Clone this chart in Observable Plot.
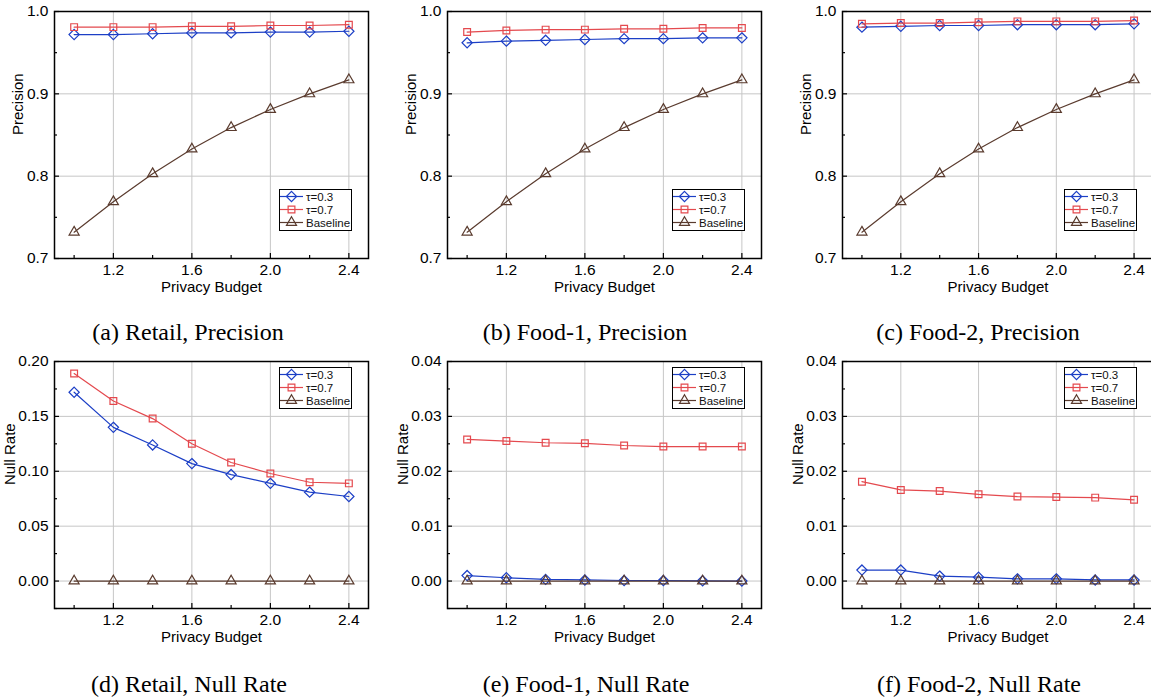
<!DOCTYPE html>
<html><head><meta charset="utf-8">
<script src="https://cdn.jsdelivr.net/npm/d3@7"></script>
<script src="https://cdn.jsdelivr.net/npm/@observablehq/plot@0.6"></script>
<style>
body{margin:0;overflow:hidden;background:#fff;}
#root{position:relative;width:1151px;height:698px;overflow:hidden;background:#fff;}
.panel{position:absolute;}
.panel svg{max-width:none !important;}
.cap{position:absolute;font-family:"Liberation Serif","Times New Roman",serif;font-size:24px;white-space:nowrap;transform:translateX(-50%);line-height:24px;color:#000;}
.leg{position:absolute;}
</style></head><body><div id="root"></div>
<script>
// ---- data ----
const budgets = [1.0, 1.2, 1.4, 1.6, 1.8, 2.0, 2.2, 2.4];
const seriesNames = ["τ=0.3", "τ=0.7", "Baseline"];

const retailPrecT3 = [0.972, 0.972, 0.973, 0.974, 0.974, 0.975, 0.975, 0.976];
const retailPrecT7 = [0.981, 0.981, 0.981, 0.982, 0.982, 0.983, 0.983, 0.984];
const food1PrecT3  = [0.962, 0.964, 0.965, 0.966, 0.967, 0.967, 0.968, 0.968];
const food1PrecT7  = [0.975, 0.977, 0.978, 0.978, 0.979, 0.979, 0.980, 0.980];
const food2PrecT3  = [0.981, 0.982, 0.983, 0.983, 0.984, 0.984, 0.984, 0.985];
const food2PrecT7  = [0.985, 0.986, 0.986, 0.987, 0.988, 0.988, 0.988, 0.989];
const baselinePrec = [0.732, 0.769, 0.803, 0.833, 0.859, 0.881, 0.900, 0.917];

const retailNullT3 = [0.172, 0.140, 0.124, 0.107, 0.097, 0.089, 0.081, 0.077];
const retailNullT7 = [0.189, 0.164, 0.148, 0.125, 0.108, 0.098, 0.090, 0.089];
const food1NullT3  = [0.0010, 0.0006, 0.0003, 0.0002, 0.0001, 0.0001, 0.00005, 0.0];
const food1NullT7  = [0.0258, 0.0255, 0.0252, 0.0251, 0.0247, 0.0245, 0.0245, 0.0245];
const food2NullT3  = [0.0020, 0.0020, 0.0009, 0.0007, 0.0004, 0.0004, 0.0002, 0.0002];
const food2NullT7  = [0.0181, 0.0166, 0.0164, 0.0158, 0.0154, 0.0153, 0.0152, 0.0148];
const baselineNull = [0, 0, 0, 0, 0, 0, 0, 0];

const xMajorTicks = [1.2, 1.6, 2.0, 2.4];
const xMinorTicks = [1.0, 1.4, 1.8, 2.2];
const precMajorTicks = [0.7, 0.8, 0.9, 1.0];
const precMinorTicks = [0.75, 0.85, 0.95];
const retailNullMajorTicks = [0.00, 0.05, 0.10, 0.15, 0.20];
const retailNullMinorTicks = [-0.025, 0.025, 0.075, 0.125, 0.175];
const foodNullMajorTicks = [0.00, 0.01, 0.02, 0.03, 0.04];
const foodNullMinorTicks = [-0.005, 0.005, 0.015, 0.025, 0.035];

const captions = ["(a) Retail, Precision", "(b) Food-1, Precision", "(c) Food-2, Precision",
                  "(d) Retail, Null Rate", "(e) Food-1, Null Rate", "(f) Food-2, Null Rate"];

// ---- styles ----
const colors = ["#1c3fc6", "#e4494e", "#5a3b2e"];
const symbols = ["diamond2", "square2", "triangle2"];
const radii = [4.6, 4.3, 4.8];
const FONT = "'Liberation Sans', Arial, sans-serif";

const panels = [
  {L: 54, T: 11, W: 314, H: 247, dom: [0.7, 1.0], maj: precMajorTicks, min: precMinorTicks, fmt: ".1f", ylab: "Precision", ydx: -36,
   vals: [retailPrecT3, retailPrecT7, baselinePrec], leg: "bottom", cap: captions[0], capX: 188, capY: 320},
  {L: 447, T: 11, W: 314, H: 247, dom: [0.7, 1.0], maj: precMajorTicks, min: precMinorTicks, fmt: ".1f", ylab: "Precision", ydx: -36,
   vals: [food1PrecT3, food1PrecT7, baselinePrec], leg: "bottom", cap: captions[1], capX: 585, capY: 320},
  {L: 842, T: 11, W: 311, H: 247, dom: [0.7, 1.0], maj: precMajorTicks, min: precMinorTicks, fmt: ".1f", ylab: "Precision", ydx: -36,
   vals: [food2PrecT3, food2PrecT7, baselinePrec], leg: "bottom", cap: captions[2], capX: 978, capY: 320},
  {L: 54, T: 361, W: 314, H: 247, dom: [-0.025, 0.2], maj: retailNullMajorTicks, min: retailNullMinorTicks, fmt: ".2f", ylab: "Null Rate", ydx: -44,
   vals: [retailNullT3, retailNullT7, baselineNull], leg: "top", cap: captions[3], capX: 189, capY: 672},
  {L: 447, T: 361, W: 314, H: 247, dom: [-0.005, 0.04], maj: foodNullMajorTicks, min: foodNullMinorTicks, fmt: ".2f", ylab: "Null Rate", ydx: -44,
   vals: [food1NullT3, food1NullT7, baselineNull], leg: "top", cap: captions[4], capX: 586, capY: 672},
  {L: 842, T: 361, W: 311, H: 247, dom: [-0.005, 0.04], maj: foodNullMajorTicks, min: foodNullMinorTicks, fmt: ".2f", ylab: "Null Rate", ydx: -44,
   vals: [food2NullT3, food2NullT7, baselineNull], leg: "top", cap: captions[5], capX: 979, capY: 672}
];

const root = document.getElementById("root");
const mL = 62, mR = 12, mT = 12, mB = 48;

panels.forEach(p => {
  const seriesMarks = [];
  p.vals.forEach((vals, si) => {
    const d = budgets.map((b, i) => ({x: b, y: vals[i]}));
    seriesMarks.push(Plot.line(d, {x: "x", y: "y", stroke: colors[si], strokeWidth: 1.2}));
    seriesMarks.push(Plot.dot(d, {x: "x", y: "y", symbol: symbols[si], r: radii[si], stroke: colors[si], fill: "none", strokeWidth: 1.2}));
  });
  const grid = {stroke: "#c6c6c6", strokeOpacity: 1, strokeWidth: 1};
  const W = p.W + mL + mR, H = p.H + mT + mB;
  const chart = Plot.plot({
    width: W, height: H,
    marginLeft: mL, marginRight: mR, marginTop: mT, marginBottom: mB,
    style: {fontFamily: FONT, fontSize: "15px", background: "transparent", overflow: "visible", color: "#000", maxWidth: "none"},
    x: {domain: [0.9, 2.5], label: null},
    y: {domain: p.dom, label: null},
    marks: [
      Plot.gridX(xMajorTicks, grid),
      Plot.gridY(p.maj, grid),
      Plot.ruleX(xMajorTicks, {x: d => d, insetTop: p.H - 5, stroke: "#000", strokeWidth: 1.2}),
      Plot.ruleX(xMinorTicks, {x: d => d, insetTop: p.H - 3, stroke: "#000", strokeWidth: 1.2}),
      Plot.ruleY(p.maj, {y: d => d, insetRight: p.W - 5, stroke: "#000", strokeWidth: 1.2}),
      Plot.ruleY(p.min, {y: d => d, insetRight: p.W - 3, stroke: "#000", strokeWidth: 1.2}),
      Plot.axisX(xMajorTicks, {tickSize: 0, tickPadding: 5, tickFormat: ".1f", label: null, fontSize: 15.5}),
      Plot.axisY(p.maj, {tickSize: 0, tickPadding: 6, tickFormat: p.fmt, label: null, fontSize: 15.5}),
      Plot.text(["Privacy Budget"], {frameAnchor: "bottom", dy: 33, text: d => d, fontSize: 15}),
      Plot.text([p.ylab], {frameAnchor: "left", dx: p.ydx, rotate: -90, text: d => d, fontSize: 15}),
      ...seriesMarks,
      Plot.frame({stroke: "#000", strokeWidth: 1.5})
    ]
  });
  const div = document.createElement("div");
  div.className = "panel";
  div.style.left = (p.L - mL) + "px";
  div.style.top = (p.T - mT) + "px";
  div.style.width = W + "px";
  div.style.height = H + "px";
  div.appendChild(chart);
  root.appendChild(div);

  // legend overlay
  const lw = 72, lh = 41;
  const lx = p.L + p.W - 17 - lw;
  const ly = p.leg === "bottom" ? p.T + p.H - 28 - lh : p.T + 6;
  const ldiv = document.createElement("div");
  ldiv.className = "leg";
  ldiv.style.left = lx + "px";
  ldiv.style.top = ly + "px";
  const svg = d3.create("svg").attr("width", lw + 2).attr("height", lh + 2);
  svg.append("rect").attr("x", 0.5).attr("y", 0.5).attr("width", lw).attr("height", lh)
    .attr("fill", "#fff").attr("stroke", "#000").attr("stroke-width", 1);
  const d3sym = [d3.symbolDiamond2, d3.symbolSquare2, d3.symbolTriangle2];
  seriesNames.forEach((name, i) => {
    const y = 7.5 + i * 13;
    svg.append("line").attr("x1", 1).attr("x2", 24).attr("y1", y).attr("y2", y)
      .attr("stroke", colors[i]).attr("stroke-width", 1.2);
    svg.append("path").attr("d", d3.symbol(d3sym[i], Math.PI * radii[i] * radii[i])())
      .attr("transform", `translate(12.5,${y})`).attr("fill", "none").attr("stroke", colors[i]).attr("stroke-width", 1.2);
    svg.append("text").attr("x", 27).attr("y", y).attr("dy", "0.35em").attr("font-family", FONT)
      .attr("font-size", 11.5).attr("fill", "#111").text(name);
  });
  ldiv.appendChild(svg.node());
  root.appendChild(ldiv);

  const cap = document.createElement("div");
  cap.className = "cap";
  cap.style.left = p.capX + "px";
  cap.style.top = p.capY + "px";
  cap.textContent = p.cap;
  root.appendChild(cap);
});
</script></body></html>
